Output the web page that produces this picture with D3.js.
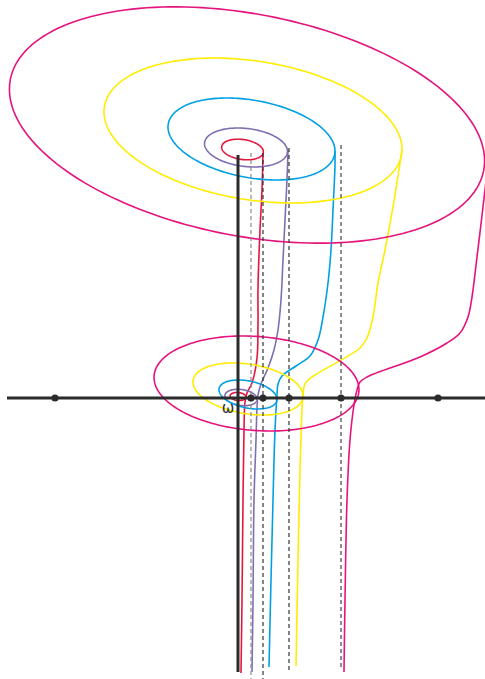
<!DOCTYPE html>
<html>
<head>
<meta charset="utf-8">
<script src="https://cdn.jsdelivr.net/npm/d3@7/dist/d3.min.js"></script>
<style>
  html, body { margin: 0; padding: 0; background: #fff; }
  svg { display: block; }
</style>
</head>
<body>
<svg id="chart" width="485" height="679"></svg>
<script>
// Coordinates are in plane units measured from the pole ω (u to the right, v upwards).

// Series order: innermost to outermost turn
const seriesNames  = ["red", "purple", "cyan", "yellow", "magenta"];
const seriesColors = ["#e3173e", "#7f6fb1", "#00a0e3", "#ffec00", "#e5137d"];

// Lower ellipse around ω for each series: [cu, cv, rx, ry, tilt°]
const lowerEllipses = [
  [0, 1.5, 8, 4, 5],
  [3, 0.5, 16.2, 8, 8],
  [10, 3.5, 29.5, 13.5, 11.8],
  [10, 9, 55.6, 24.8, 9.1],
  [18.5, 14.5, 102.7, 47, 4.3]
];

// Upper ellipse for each series: [cu, cv, rx, ry, tilt°]
const upperEllipses = [
  [4.5, 248.5, 21, 10, 8],
  [8, 250.5, 41.7, 19, 6.7],
  [13.5, 259, 84.6, 38.7, 10.4],
  [15, 267.5, 150.5, 69.3, 9.1],
  [9, 273, 241, 111, 10.9]
];

// Sheet of each series: from the bottom edge, up past the lower ellipse, to the upper ellipse
const sheetRed = [[3,-275],[4,-202],[5,-102],[6,-32],[7,-4],[9,5],[14,15],[19,40],[20,73],[20,111],[22,168],[24,208],[25,245]];
const sheetPurple = [[14,-274],[15,-202],[16,-102],[18,-42],[19,-10],[20,3],[23,14],[30,30],[36,48],[40,68],[43,98],[45,138],[47,178],[49,218],[50,248]];
const sheetCyan = [[31,-269],[33,-182],[35,-102],[37,-32],[39,3],[40,14],[44,22],[58,32],[72,42],[80,58],[85,81],[90,115],[93,148],[95,188],[97,233],[97,247]];
const sheetYellow = [[58,-268],[60,-162],[62,-72],[64,-12],[65,3],[67,14],[74,21],[122,50],[129,60],[135,81],[140,115],[147,148],[155,191],[164,248]];
const sheetMagenta = [[106,-274],[107,-202],[109,-102],[112,-42],[116,-7],[119,8],[122,16],[129,21],[182,41],[209,55],[222,65],[230,81],[234,101],[239,141],[245,191],[249,226]];
const sheets = [sheetRed, sheetPurple, sheetCyan, sheetYellow, sheetMagenta];

// Marked points on the real axis and their vertical guides
const axisDots   = [-183, 13, 25, 51, 103, 200];
const guideU     = [13, 25, 51, 103];
const guideTopV  = [245, 245, 250, 253];
const guideBotV  = [-281, -281, -275, -272];
const guideShade = ["#8a8a8a", "#333", "#333", "#444"];

// Axes extents
const realAxis = [-231, 247];
const imagAxis = [243, -274];
const poleLabel = "ω";

const svg = d3.select("#chart");
const W = 485, H = 679;

const x = d3.scaleLinear().domain([-238, 247]).range([0, W]);
const y = d3.scaleLinear().domain([398, -281]).range([0, H]);

// Sample a tilted ellipse in plane units
function ellipsePoints(e) {
  const [cu, cv, rx, ry, tiltDeg] = e;
  const t = tiltDeg * Math.PI / 180;
  return d3.range(0, 361, 2).map(deg => {
    const a = deg * Math.PI / 180;
    const dx = rx * Math.cos(a), dy = ry * Math.sin(a);
    const X = dx * Math.cos(t) - dy * Math.sin(t);
    const Y = dx * Math.sin(t) + dy * Math.cos(t);
    return [cu + X, cv - Y];
  });
}

const closedLine = d3.line().x(d => x(d[0])).y(d => y(d[1])).curve(d3.curveLinearClosed);
const openLine = d3.line().x(d => x(d[0])).y(d => y(d[1])).curve(d3.curveCatmullRom.alpha(0.5));

const curves = svg.append("g").attr("fill", "none").attr("stroke-width", 1.6);

seriesNames.forEach((name, i) => {
  const g = curves.append("g").attr("class", "turn-" + name).attr("stroke", seriesColors[i]);
  g.append("path").attr("d", closedLine(ellipsePoints(upperEllipses[i])));
  g.append("path").attr("d", closedLine(ellipsePoints(lowerEllipses[i])));
  g.append("path").attr("d", openLine(sheets[i]));
});

// Vertical dashed guides
const guides = svg.append("g").attr("fill", "none").attr("stroke-width", 1.2).attr("stroke-dasharray", "4,3");
guideU.forEach((u, i) => {
  guides.append("line")
    .attr("x1", x(u)).attr("x2", x(u))
    .attr("y1", y(guideTopV[i])).attr("y2", y(guideBotV[i]))
    .attr("stroke", guideShade[i]);
});

// Axes
const axes = svg.append("g").attr("stroke", "#2b2b2b").attr("stroke-width", 3);
axes.append("line")
  .attr("x1", x(realAxis[0])).attr("x2", x(realAxis[1]))
  .attr("y1", y(0)).attr("y2", y(0));
axes.append("line")
  .attr("x1", x(0)).attr("x2", x(0))
  .attr("y1", y(imagAxis[0])).attr("y2", y(imagAxis[1]));

svg.append("g").attr("fill", "#2b2b2b")
  .selectAll("circle").data(axisDots).join("circle")
  .attr("cx", d => x(d)).attr("cy", y(0)).attr("r", 3.6);

svg.append("text")
  .attr("x", x(-10)).attr("y", y(-15))
  .attr("text-anchor", "middle")
  .attr("font-family", "DejaVu Sans, sans-serif")
  .attr("font-size", 15)
  .attr("fill", "#2b2b2b")
  .text(poleLabel);
</script>
</body>
</html>
